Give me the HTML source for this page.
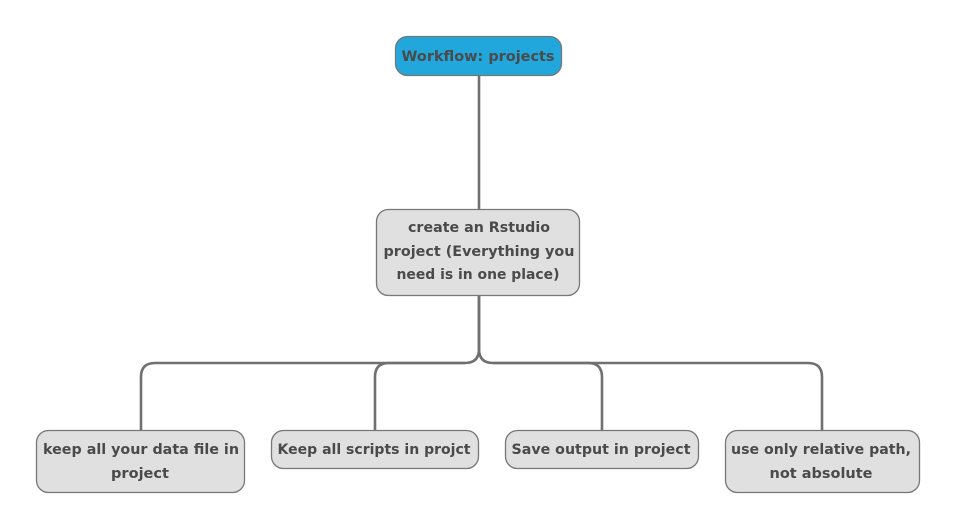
<!DOCTYPE html>
<html><head><meta charset="utf-8"><style>
html,body{margin:0;padding:0;background:#fff;}
svg{display:block;}
text{font-family:"DejaVu Sans","Liberation Sans",sans-serif;font-weight:bold;font-size:14px;fill:#4a4a4a;text-anchor:middle;}
</style></head><body>
<svg width="956" height="531" viewBox="0 0 956 531" xmlns="http://www.w3.org/2000/svg">
<g fill="none" stroke="#707070" stroke-width="2.6">
<path d="M479 76 V209"/>
<path d="M479 296 V349 Q479 363 465 363 H155 Q141 363 141 377 V430"/>
<path d="M479 296 V349 Q479 363 493 363 H808 Q822 363 822 377 V430"/>
<path d="M465 363 H389 Q375 363 375 377 V430"/>
<path d="M493 363 H588 Q602 363 602 377 V430"/>
</g>
<g stroke="#777" stroke-width="1.3">
<rect x="395.5" y="36.5" width="166" height="39" rx="12" fill="#22a7dd"/>
<rect x="376.5" y="209.5" width="203" height="86" rx="12" fill="#e0e0e0"/>
<rect x="36.5" y="430.5" width="208" height="62" rx="12" fill="#e0e0e0"/>
<rect x="271.5" y="430.5" width="207" height="38" rx="12" fill="#e0e0e0"/>
<rect x="505.5" y="430.5" width="193" height="38" rx="12" fill="#e0e0e0"/>
<rect x="725.5" y="430.5" width="194" height="62" rx="12" fill="#e0e0e0"/>
</g>
<text x="478" y="61" textLength="153" lengthAdjust="spacingAndGlyphs">Workflow: projects</text>
<text x="479" y="232" textLength="142" lengthAdjust="spacingAndGlyphs">create an Rstudio</text>
<text x="479" y="256" textLength="191" lengthAdjust="spacingAndGlyphs">project (Everything you</text>
<text x="478" y="279" textLength="163" lengthAdjust="spacingAndGlyphs">need is in one place)</text>
<text x="141" y="454" textLength="196" lengthAdjust="spacingAndGlyphs">keep all your data file in</text>
<text x="140" y="478" textLength="58" lengthAdjust="spacingAndGlyphs">project</text>
<text x="374" y="454" textLength="193" lengthAdjust="spacingAndGlyphs">Keep all scripts in projct</text>
<text x="601" y="454" textLength="179" lengthAdjust="spacingAndGlyphs">Save output in project</text>
<text x="821" y="454" textLength="180" lengthAdjust="spacingAndGlyphs">use only relative path,</text>
<text x="821" y="478" textLength="103" lengthAdjust="spacingAndGlyphs">not absolute</text>
</svg>
</body></html>
